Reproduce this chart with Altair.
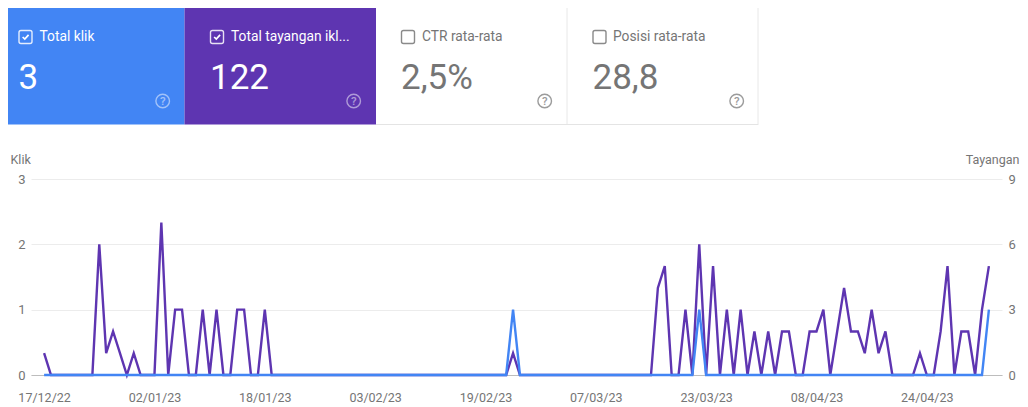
import altair as alt
import pandas as pd

start_date = "2022-12-17"
impressions = [
    1, 0, 0, 0, 0, 0, 0, 0, 6, 1,
    2, 1, 0, 1, 0, 0, 0, 7, 0, 3,
    3, 0, 0, 3, 0, 3, 0, 0, 3, 3,
    0, 0, 3, 0, 0, 0, 0, 0, 0, 0,
    0, 0, 0, 0, 0, 0, 0, 0, 0, 0,
    0, 0, 0, 0, 0, 0, 0, 0, 0, 0,
    0, 0, 0, 0, 0, 0, 0, 0, 1, 0,
    0, 0, 0, 0, 0, 0, 0, 0, 0, 0,
    0, 0, 0, 0, 0, 0, 0, 0, 0, 4,
    5, 0, 0, 3, 0, 6, 0, 5, 0, 3,
    0, 3, 0, 2, 0, 2, 0, 2, 2, 0,
    0, 2, 2, 3, 0, 2, 4, 2, 2, 1,
    3, 1, 2, 0, 0, 0, 0, 1, 0, 0,
    2, 5, 0, 2, 2, 0, 3, 5,
]
clicks = [
    0, 0, 0, 0, 0, 0, 0, 0, 0, 0,
    0, 0, 0, 0, 0, 0, 0, 0, 0, 0,
    0, 0, 0, 0, 0, 0, 0, 0, 0, 0,
    0, 0, 0, 0, 0, 0, 0, 0, 0, 0,
    0, 0, 0, 0, 0, 0, 0, 0, 0, 0,
    0, 0, 0, 0, 0, 0, 0, 0, 0, 0,
    0, 0, 0, 0, 0, 0, 0, 0, 1, 0,
    0, 0, 0, 0, 0, 0, 0, 0, 0, 0,
    0, 0, 0, 0, 0, 0, 0, 0, 0, 0,
    0, 0, 0, 0, 0, 1, 0, 0, 0, 0,
    0, 0, 0, 0, 0, 0, 0, 0, 0, 0,
    0, 0, 0, 0, 0, 0, 0, 0, 0, 0,
    0, 0, 0, 0, 0, 0, 0, 0, 0, 0,
    0, 0, 0, 0, 0, 0, 0, 1,
]
tick_dates = [
    (2022, 12, 17), (2023, 1, 2), (2023, 1, 18), (2023, 2, 3), (2023, 2, 19),
    (2023, 3, 7), (2023, 3, 23), (2023, 4, 8), (2023, 4, 24),
]
card_titles = ["Total klik", "Total tayangan ikl...", "CTR rata-rata", "Posisi rata-rata"]
card_values = ["3", "122", "2,5%", "28,8"]
card_checked = [True, True, False, False]

dates = pd.date_range(start_date, periods=len(impressions), freq="D")
df = pd.DataFrame({"date": dates, "klik": clicks, "tayangan": impressions})

FONT = "Roboto"
GRAY = "#757575"
BLUE = "#4285f4"
PURPLE = "#5e35b1"
OX, OY = 31, 179  # page position of the plot origin


def px(v):
    return alt.value(v - OX)


def py(v):
    return alt.value(v - OY)


x_scale = alt.Scale(
    domain=[
        alt.DateTime(year=2022, month=12, date=15, hours=2, minutes=24),
        alt.DateTime(year=2023, month=5, date=4, hours=21, minutes=36),
    ]
)
x_axis = alt.Axis(
    values=[alt.DateTime(year=y, month=m, date=d) for y, m, d in tick_dates],
    format="%d/%m/%y",
    title=None,
    grid=False,
    ticks=False,
    domain=True,
    domainColor="#bdbdbd",
    domainWidth=1,
    labelFont=FONT,
    labelFontSize=12.5,
    labelColor=GRAY,
    labelPadding=16,
    labelOverlap=False,
    labelFlush=False,
    labelBound=False,
)


def y_axis(orient, values, grid):
    return alt.Axis(
        orient=orient,
        values=values,
        format="d",
        title=None,
        grid=grid,
        gridColor="#ececec",
        gridWidth=1,
        ticks=False,
        domain=False,
        labelFont=FONT,
        labelFontSize=13,
        labelColor=GRAY,
        labelPadding=6,
    )


base = alt.Chart(df)
line_tayangan = base.mark_line(color=PURPLE, strokeWidth=2.4).encode(
    x=alt.X("date:T", scale=x_scale, axis=x_axis),
    y=alt.Y("tayangan:Q", scale=alt.Scale(domain=[0, 9]), axis=y_axis("right", [0, 3, 6, 9], False)),
)
line_klik = base.mark_line(color=BLUE, strokeWidth=2.4).encode(
    x=alt.X("date:T", scale=x_scale, axis=x_axis),
    y=alt.Y("klik:Q", scale=alt.Scale(domain=[0, 3]), axis=y_axis("left", [0, 1, 2, 3], True)),
)

one = alt.Chart(pd.DataFrame({"a": [0]}))
deco = []


def box(x1, x2, y1, y2, color):
    return one.mark_rect(color=color).encode(x=px(x1), x2=px(x2), y=py(y1), y2=py(y2))


def text(s, x, y, size, color, weight=400, align="left"):
    return one.mark_text(
        text=s, font=FONT, fontSize=size, color=color, fontWeight=weight, align=align, baseline="alphabetic"
    ).encode(x=px(x), y=py(y))


card_edges = [7, 184.5, 376, 567, 758]
card_fill = [BLUE, PURPLE, "#ffffff", "#ffffff"]
text_x = [39.5, 231, 422, 613]
box_x = [19, 210.5, 401.5, 593]
value_x = [18.5, 210, 401, 592.5]
help_x = [162.7, 353.7, 544.7, 736.7]

deco.append(one.mark_rule(color="#e4e4e4", strokeWidth=1).encode(x=px(376), x2=px(758.5), y=py(124.5)))
deco.append(one.mark_rule(color="#e8e8e8", strokeWidth=1).encode(x=px(567), y=py(8), y2=py(124)))
deco.append(one.mark_rule(color="#e8e8e8", strokeWidth=1).encode(x=px(758), y=py(8), y2=py(124)))

for i in range(4):
    on = card_checked[i]
    if on:
        deco.append(box(card_edges[i], card_edges[i + 1], 8, 124.5, card_fill[i]))
    fg = "#ffffff" if on else GRAY
    deco.append(
        one.mark_rect(
            fillOpacity=0, stroke="#ffffff" if on else "#757575", strokeWidth=1.4, strokeOpacity=0.85, cornerRadius=2
        ).encode(x=px(box_x[i]), x2=px(box_x[i] + 13), y=py(30.5), y2=py(43.5))
    )
    if on:
        deco.append(
            one.mark_point(
                shape="M -0.6 0 L -0.15 0.45 L 0.65 -0.45",
                filled=False,
                stroke="#ffffff",
                strokeWidth=1.7,
                size=90,
                opacity=1,
            ).encode(x=px(box_x[i] + 6.5), y=py(37))
        )
    deco.append(text(card_titles[i], text_x[i], 41, 13.8, fg, 400))
    deco.append(text(card_values[i], value_x[i], 88.5, 35, fg, 400))
    help_col = "#ffffff" if on else "#8a8a8a"
    help_op = 0.5 if on else 0.85
    deco.append(
        one.mark_point(shape="circle", filled=False, stroke=help_col, strokeWidth=1.4, size=185, opacity=help_op).encode(
            x=px(help_x[i]), y=py(101)
        )
    )
    deco.append(
        one.mark_text(
            text="?", font=FONT, fontSize=11.5, color=help_col, opacity=help_op, fontWeight=500,
            align="center", baseline="middle",
        ).encode(x=px(help_x[i]), y=py(101.5))
    )

deco.append(text("Klik", 10.5, 164, 12.5, GRAY))
deco.append(text("Tayangan", 1019.5, 164, 12.5, GRAY, align="right"))

chart = (
    alt.layer(line_tayangan, line_klik, *deco)
    .resolve_scale(y="independent")
    .resolve_axis(y="independent")
    .properties(
        width=971,
        height=196,
        autosize=alt.AutoSizeParams(type="none"),
        padding={"left": 23, "top": 171, "right": 18, "bottom": 30},
        background="#ffffff",
    )
    .configure_view(stroke=None)
)

chart.save("out.html", embed_options={"renderer": "svg", "actions": False})
